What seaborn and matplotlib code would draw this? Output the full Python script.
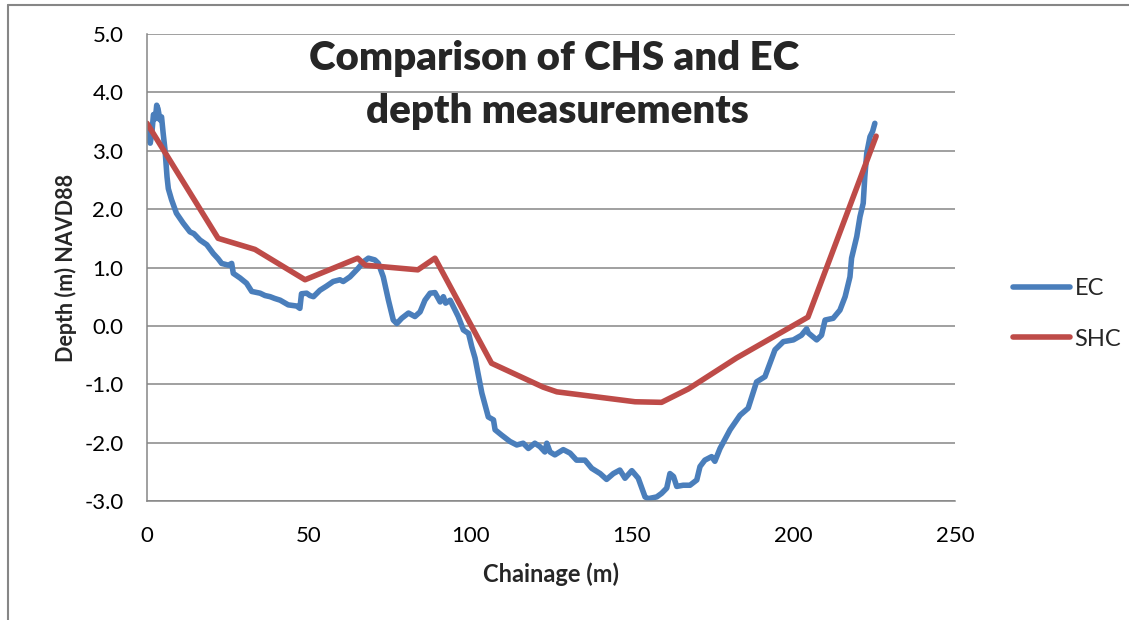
import pandas as pd
import matplotlib.pyplot as plt
from matplotlib.lines import Line2D
import seaborn as sns

# EC survey profile (chainage in m, depth in m NAVD88)
ec_chainage = [0.0, 0.5, 1.0, 1.5, 2.0, 2.6, 3.0, 3.4, 4.0, 4.5, 5.0, 5.6, 6.2, 6.6,
               7.6, 9.1, 11.2, 13.3, 14.5, 16.4, 18.5, 20.5, 22.0, 23.1, 25.2, 26.2,
               26.7, 28.8, 30.8, 32.4, 35.0, 36.5, 38.1, 39.5, 41.2, 43.7, 46.3, 47.3,
               47.8, 49.4, 50.4, 51.5, 53.5, 55.5, 57.6, 59.7, 60.7, 62.8, 65.4, 67.0,
               68.5, 70.5, 71.6, 73.1, 74.7, 76.2, 77.3, 78.8, 80.9, 82.9, 84.5, 86.0,
               87.6, 89.1, 90.7, 91.7, 92.4, 93.8, 95.3, 96.3, 97.9, 99.5, 100.5, 101.5,
               103.6, 105.6, 107.2, 107.7, 109.7, 112.3, 114.4, 116.4, 118.0, 120.0,
               121.6, 123.1, 123.7, 124.7, 126.2, 128.8, 130.9, 132.9, 135.5, 137.6,
               140.2, 142.2, 144.3, 146.3, 147.9, 150.0, 152.0, 154.1, 155.1, 157.7,
               159.2, 160.8, 161.8, 162.9, 163.9, 165.9, 168.0, 170.1, 171.1, 172.6,
               174.7, 175.7, 177.3, 180.4, 183.5, 186.0, 188.6, 191.2, 194.3, 196.9,
               200.0, 202.5, 204.1, 204.6, 207.2, 208.7, 209.8, 212.3, 214.4, 216.0,
               217.5, 218.0, 219.6, 220.6, 221.6, 222.1, 222.7, 223.7, 224.5, 225.2]
ec_depth = [3.35, 3.20, 3.13, 3.30, 3.62, 3.55, 3.78, 3.72, 3.53, 3.58, 3.30, 3.00, 2.55, 2.35,
            2.16, 1.93, 1.76, 1.61, 1.58, 1.47, 1.39, 1.24, 1.15, 1.07, 1.04, 1.07,
            0.90, 0.82, 0.73, 0.59, 0.56, 0.52, 0.50, 0.47, 0.44, 0.36, 0.34, 0.30,
            0.55, 0.56, 0.52, 0.50, 0.61, 0.68, 0.76, 0.79, 0.76, 0.84, 0.99, 1.10,
            1.16, 1.13, 1.07, 0.84, 0.44, 0.10, 0.04, 0.13, 0.22, 0.16, 0.24, 0.44,
            0.56, 0.57, 0.41, 0.50, 0.39, 0.44, 0.27, 0.16, -0.07, -0.13, -0.36, -0.55,
            -1.15, -1.56, -1.61, -1.78, -1.87, -1.98, -2.04, -2.01, -2.10, -2.01,
            -2.07, -2.16, -2.01, -2.16, -2.21, -2.12, -2.18, -2.30, -2.30, -2.44,
            -2.53, -2.63, -2.53, -2.47, -2.61, -2.48, -2.61, -2.93, -2.96, -2.93,
            -2.87, -2.78, -2.53, -2.58, -2.75, -2.73, -2.73, -2.64, -2.41, -2.30,
            -2.24, -2.32, -2.10, -1.78, -1.53, -1.41, -0.96, -0.87, -0.41, -0.27,
            -0.24, -0.16, -0.05, -0.12, -0.24, -0.16, 0.10, 0.13, 0.27, 0.50,
            0.84, 1.16, 1.53, 1.87, 2.10, 2.56, 2.96, 3.24, 3.33, 3.47]

# SHC profile
shc_chainage = [0.0, 22.0, 33.4, 48.9, 65.2, 67.5, 83.8, 89.1, 106.6, 122.6, 126.8,
                151.0, 159.2, 167.5, 182.4, 204.5, 225.6]
shc_depth = [3.47, 1.50, 1.31, 0.79, 1.16, 1.04, 0.96, 1.16, -0.64, -1.05, -1.13,
             -1.30, -1.31, -1.08, -0.55, 0.15, 3.25]

x_ticks = [0, 50, 100, 150, 200, 250]
y_ticks = [-3.0, -2.0, -1.0, 0.0, 1.0, 2.0, 3.0, 4.0, 5.0]

df = pd.concat([
    pd.DataFrame({'Chainage': ec_chainage, 'Depth': ec_depth, 'Series': 'EC'}),
    pd.DataFrame({'Chainage': shc_chainage, 'Depth': shc_depth, 'Series': 'SHC'}),
])

sns.set_theme(style="whitegrid")
plt.rcParams['font.family'] = ['Lato', 'DejaVu Sans']

grey = '#868686'
fig = plt.figure(figsize=(11.29, 6.20), dpi=100)
ax = fig.add_axes([147 / 1129, 1 - 501 / 620, 808 / 1129, 467 / 620])

sns.lineplot(data=df, x='Chainage', y='Depth', hue='Series', sort=False,
             estimator=None, palette={'EC': '#4A7EBB', 'SHC': '#BE4B48'},
             linewidth=4.0, ax=ax)

ax.set_xlim(0, 250)
ax.set_ylim(-3, 5)
ax.set_xticks(x_ticks)
ax.set_yticks(y_ticks)
ax.set_yticklabels([f'{v:.1f}' for v in y_ticks])
ax.grid(axis='y', color=grey, linewidth=1.1)
ax.grid(axis='x', visible=False)
for side in ['top', 'right']:
    ax.spines[side].set_visible(False)
for side in ['left', 'bottom']:
    ax.spines[side].set_color(grey)
    ax.spines[side].set_linewidth(1.1)
ax.tick_params(axis='both', direction='out', length=6, width=1.1, color=grey,
               labelsize=16, labelcolor='black')
ax.tick_params(axis='y', pad=11)
ax.tick_params(axis='x', pad=12)

ax.set_xlabel('Chainage (m)', fontsize=17, fontweight='bold', labelpad=12)
ax.set_ylabel('Depth (m) NAVD88', fontsize=15.5, fontweight='bold', labelpad=5)

# two-line title inside the plot area
fig.text(554 / 1129, 1 - 70 / 620, 'Comparison of CHS and EC', ha='center',
         va='baseline', fontsize=29, fontweight='heavy')
fig.text(557 / 1129, 1 - 123 / 620, 'depth measurements', ha='center',
         va='baseline', fontsize=29, fontweight='heavy')

ax.legend(title=None, loc='upper left', bbox_to_anchor=(1013 / 1129, 1 - 278 / 620),
          bbox_transform=fig.transFigure, frameon=False, fontsize=17,
          handlelength=2.4, handletextpad=0.2, borderpad=0, borderaxespad=0,
          labelspacing=1.25)

# chart border (partially cropped in the original)
fig.add_artist(Line2D([8 / 1129, 8 / 1129], [0, 1 - 5 / 620], color=grey, lw=1.5))
fig.add_artist(Line2D([8 / 1129, 1], [1 - 5 / 620, 1 - 5 / 620], color=grey, lw=1.5))

fig.savefig('out.png', dpi=100)
